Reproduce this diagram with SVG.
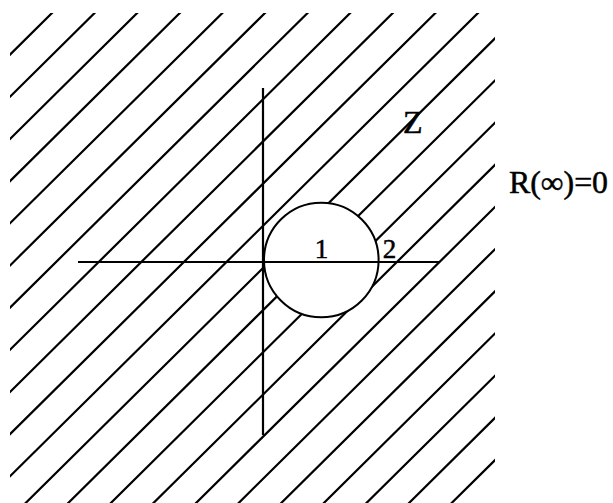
<svg xmlns="http://www.w3.org/2000/svg" width="613" height="503" viewBox="0 0 613 503">
  <style>
    .hatch { fill: none; stroke: #000; stroke-width: 2.2; }
    .axis { stroke: #000; stroke-width: 2.2; fill: none; }
    .disk { fill: #fff; stroke: #000; stroke-width: 2; }
    .lbl { font-family: "Liberation Serif", "DejaVu Serif", serif; fill: #000; stroke: #000; stroke-width: 0.5; }
  </style>
  <defs>
    <clipPath id="region">
      <rect x="10" y="13" width="485" height="490"/>
    </clipPath>
  </defs>
  <rect width="613" height="503" fill="#fff"/>
  <g id="hatching" clip-path="url(#region)">
    <path class="hatch" d="
      M -508 567.4 l 570 -564.3
      M -465.4 567.4 l 570 -564.3
      M -422.8 567.4 l 570 -564.3
      M -380.2 567.4 l 570 -564.3
      M -337.6 567.4 l 570 -564.3
      M -295 567.4 l 570 -564.3
      M -252.4 567.4 l 570 -564.3
      M -209.8 567.4 l 570 -564.3
      M -167.2 567.4 l 570 -564.3
      M -124.6 567.4 l 570 -564.3
      M -82 567.4 l 570 -564.3
      M -39.4 567.4 l 570 -564.3
      M 3.2 567.4 l 570 -564.3
      M 45.8 567.4 l 570 -564.3
      M 88.4 567.4 l 570 -564.3
      M 131 567.4 l 570 -564.3
      M 173.6 567.4 l 570 -564.3
      M 216.2 567.4 l 570 -564.3
      M 258.8 567.4 l 570 -564.3
      M 301.4 567.4 l 570 -564.3
      M 344 567.4 l 570 -564.3
      M 386.6 567.4 l 570 -564.3"/>
  </g>
  <g id="unit-disk">
    <circle class="disk" cx="321.3" cy="260" r="57.3"/>
  </g>
  <g id="axes">
    <line class="axis" x1="78" y1="262" x2="440" y2="262"/>
    <line class="axis" x1="263" y1="88" x2="263" y2="435"/>
  </g>
  <g id="labels">
    <text class="lbl" x="403" y="133" font-size="32">Z</text>
    <text class="lbl" x="509" y="193" font-size="31" textLength="99" lengthAdjust="spacingAndGlyphs">R(∞)=0</text>
    <text class="lbl" x="321.5" y="258" font-size="27" text-anchor="middle">1</text>
    <text class="lbl" x="389.5" y="258" font-size="27" text-anchor="middle">2</text>
  </g>
</svg>
